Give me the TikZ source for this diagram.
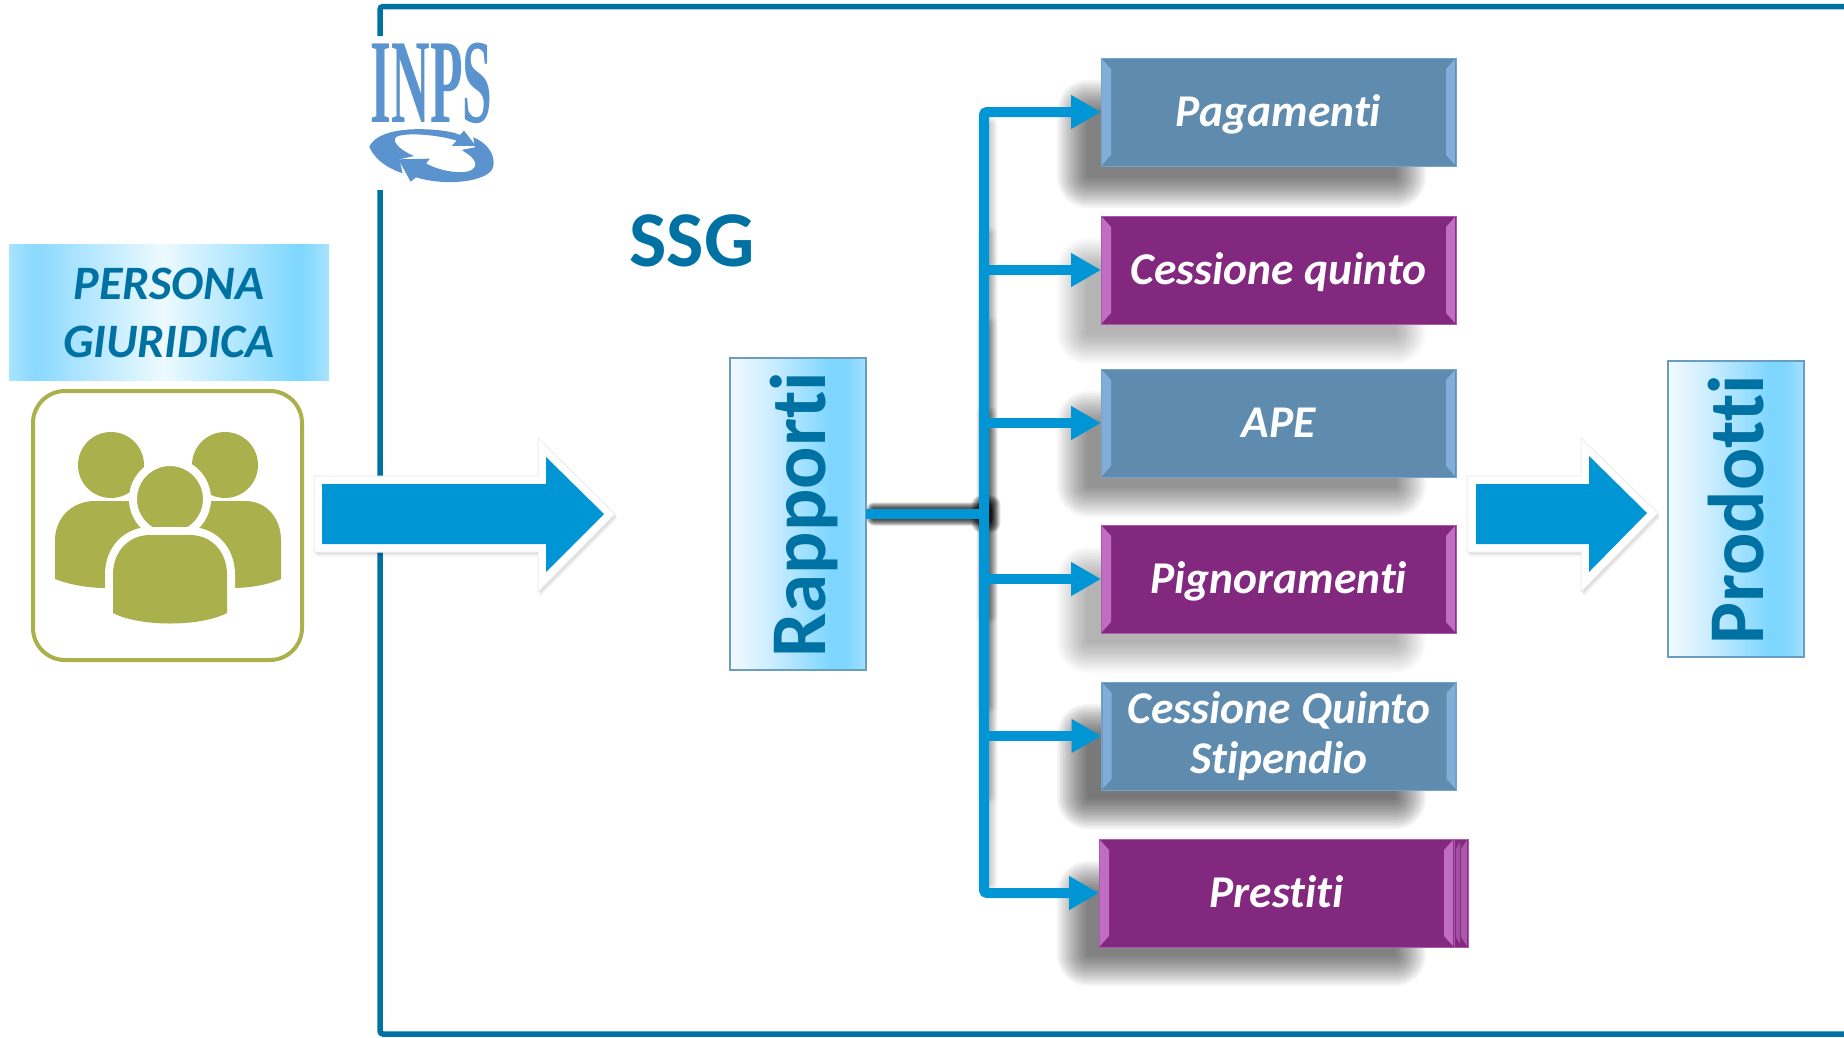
\documentclass[tikz,border=0pt]{standalone}
\usepackage{fontspec}
\setmainfont{Carlito}[Ligatures={NoCommon}]
\newfontfamily\logofont{Liberation Serif}
\usetikzlibrary{arrows.meta,calc}
\definecolor{ink}{HTML}{0071A3}
\definecolor{flow}{HTML}{0096D6}
\definecolor{oliv}{HTML}{A9B04C}
\definecolor{steel}{HTML}{5F8BAE}
\definecolor{steellt}{HTML}{80AED8}
\definecolor{plum}{HTML}{82297F}
\definecolor{plumlt}{HTML}{C06DC3}
\definecolor{logoblue}{HTML}{5B93CF}
\definecolor{edgeblue}{HTML}{6A9DC0}
\pgfdeclarehorizontalshading{persgrad}{100bp}{rgb(0bp)=(.66,.89,1);rgb(25bp)=(.66,.89,1);rgb(29bp)=(.54,.85,1);rgb(49bp)=(.93,.98,1);rgb(70.5bp)=(.49,.84,1);rgb(75bp)=(.66,.89,1);rgb(100bp)=(.66,.89,1)}
\pgfdeclarehorizontalshading{sidegrad}{100bp}{rgb(0bp)=(.95,.98,1);rgb(25bp)=(.95,.98,1);rgb(40bp)=(.80,.93,1);rgb(62bp)=(.49,.84,1);rgb(68bp)=(.50,.84,1);rgb(75bp)=(.64,.88,1);rgb(100bp)=(.64,.88,1)}
\newcommand\softbox[6]{% x1 y1 x2 y2 blur opacity
 \pgfmathsetmacro\layerop{1-(1-#6)^(1/16)}
 \foreach \i in {0,...,15}{
  \pgfmathsetmacro\ins{(#5)*(\i-7.5)/8}
  \pgfmathsetmacro\rad{max(1,(#5)-\ins)}
  \fill[black,opacity=\layerop,rounded corners=\rad pt]
   ({#1+\ins},{#2+\ins}) rectangle ({#3-\ins},{#4-\ins});
 }}
\newcommand\softpoly[1]{%
 \foreach \w in {5,4,3,2,1}{
  \fill[black,opacity=.03,shift={(\w*.5,\w*.9)}] #1 -- cycle;
 }}
\newcommand\bevel[2]{%
 \fill[#2] ($(#1.north west)+(1,1)$) -- ($(#1.north west)+(10,11)$) -- ($(#1.south west)+(10,-11)$) -- ($(#1.south west)+(1,-1)$) -- cycle;
 \fill[#2] ($(#1.north east)+(-1,1)$) -- ($(#1.north east)+(-10,11)$) -- ($(#1.south east)+(-10,-11)$) -- ($(#1.south east)+(-1,-1)$) -- cycle;}
\tikzset{
 framed/.style={draw=ink,line width=5.5pt,line cap=butt,rounded corners=3pt},
 conn/.style={draw=flow,line width=10pt,rounded corners=3pt},
 tipped/.style={conn,-{Triangle[length=30pt,width=32pt]}},
 dual/.style={conn,{Triangle[length=30pt,width=32pt]}-{Triangle[length=30pt,width=32pt]}},
 halo/.style={fill=white,draw=black!7,line width=1pt,line join=miter},
 cardtext/.style={text=white,font=\fontsize{45.5}{50}\selectfont\bfseries\itshape,inner sep=0pt,outer sep=0pt,align=center},
 stepcard/.style={cardtext,minimum width=355pt,minimum height=108pt,text height=34pt,text depth=6pt},
 bluecard/.style={stepcard,fill=steel,draw=steellt!70!steel,line width=1pt},
 plumcard/.style={stepcard,fill=plum,draw=plumlt!70!plum,line width=1pt},
 sidebox/.style={shading=sidegrad,draw=edgeblue,line width=1.5pt,inner sep=0pt,outer sep=0pt},
 sidetext/.style={text=ink,font=\fontsize{79}{79}\selectfont\bfseries,anchor=base,rotate=90,inner sep=0pt},
}
\begin{document}
\begin{tikzpicture}[x=1pt,y=-1pt]
\useasboundingbox (0,0) rectangle (1844,1037);
\fill[white] (0,0) rectangle (1844,1037);
% frame
\draw[framed] (380,36) -- (380,6.5) -- (1844,6.5);
\draw[framed] (380,190) -- (380,1034) -- (1844,1034);
% logo
\node[font=\logofont\bfseries\fontsize{120}{120}\selectfont,text=logoblue,xscale=.445,anchor=base,inner sep=0pt] (inps) at (431.5,122) {INPS};
\begin{scope}[shift={(340,0)},x=.3333pt,y=-.3333pt]
 \fill[logoblue] (88,440) .. controls (110,395) and (190,385) .. (260,388) .. controls (300,390) and (340,395) .. (360,405) -- (372,392) -- (408,438) -- (335,438) -- (350,422) .. controls (300,405) and (190,395) .. (167,412) .. controls (155,430) and (190,455) .. (222,468) -- (178,478) -- (188,520) .. controls (130,500) and (100,470) .. (88,440) -- cycle;
 \fill[logoblue] (212,545) -- (175,478) -- (270,476) -- (258,490) .. controls (300,515) and (390,530) .. (405,500) .. controls (412,480) and (385,462) .. (365,450) -- (405,442) -- (400,412) .. controls (445,430) and (470,470) .. (458,505) .. controls (440,545) and (320,560) .. (228,532) -- cycle;
\end{scope}
% persona label
\node[shading=persgrad,minimum width=320pt,minimum height=136pt,inner sep=0pt,outer sep=0pt,text=ink,align=center,font=\fontsize{48}{58}\selectfont\bfseries\itshape] (persona) at (169,312.5) {PERSONA\\GIURIDICA};
% people icon
\node[draw=oliv,line width=4pt,rounded corners=32pt,minimum width=269pt,minimum height=269pt,inner sep=0pt,outer sep=0pt] (people) at (167.5,525.5) {};
\fill[oliv] (111,465) circle (33) (225,465) circle (33);
\fill[oliv] (55,579) -- (55,540) .. controls (55,520) and (70,501) .. (95,501) -- (245,501) .. controls (268,501) and (281,520) .. (281,540) -- (281,579) .. controls (265,586) and (245,588) .. (234,588) -- (105,588) .. controls (90,588) and (70,585) .. (55,579) -- cycle;
\filldraw[fill=oliv,draw=white,line width=8pt] (170,499) circle (37);
\filldraw[fill=oliv,draw=white,line width=16pt] (113,613) -- (113,575) .. controls (113,550) and (130,535) .. (150,535) -- (190,535) .. controls (210,535) and (227,550) .. (227,575) -- (227,613) .. controls (200,627) and (140,627) .. (113,613) -- cycle;
\fill[oliv] (113,613) -- (113,575) .. controls (113,550) and (130,535) .. (150,535) -- (190,535) .. controls (210,535) and (227,550) .. (227,575) -- (227,613) .. controls (200,627) and (140,627) .. (113,613) -- cycle;
% big arrow 1
\softpoly{(314,476) -- (538,476) -- (538,438) -- (615,514) -- (538,592) -- (538,552) -- (314,552)}
\filldraw[halo] (314,476) -- (538,476) -- (538,438) -- (615,514) -- (538,592) -- (538,552) -- (314,552) -- cycle;
\fill[flow] (322,484) -- (546,484) -- (546,457) -- (604,514) -- (546,572) -- (546,544) -- (322,544) -- cycle;
% SSG
\node[text=ink,font=\fontsize{79}{79}\selectfont\bfseries,anchor=base,inner sep=0pt] (ssg) at (692,266) {SSG};
% shadows of cards
\softbox{1072}{95}{1411}{193}{16}{.46}
\softbox{1072}{253}{1411}{349}{16}{.26}
\softbox{1072}{406}{1411}{502}{16}{.42}
\softbox{1072}{562}{1411}{658}{16}{.26}
\softbox{1072}{719}{1411}{814}{16}{.50}
\softbox{1072}{876}{1411}{971}{16}{.46}
% shadows of connectors
\softbox{980}{120}{994}{888}{4}{.15}
\softbox{980}{230}{994}{800}{4}{.10}
\softbox{980}{320}{994}{710}{4}{.12}
\softbox{980}{410}{994}{620}{4}{.20}
\softbox{870}{506}{990}{522}{4}{.75}
\softbox{976}{500}{996}{528}{5}{.70}
% cards
\node[bluecard] (pag) at (1278.5,112) {Pagamenti};
\node[plumcard] (quinto) at (1278.5,270) {Cessione quinto};
\node[bluecard] (ape) at (1278.5,423) {APE};
\node[plumcard] (pign) at (1278.5,579) {Pignoramenti};
\node[bluecard,text height=,text depth=] (stip) at (1279,736) {\raisebox{-9.6pt}{\parbox{340pt}{\centering\baselineskip=50pt Cessione Quinto\\Stipendio}}};
\fill[plum,draw=plumlt!70!plum,line width=1pt] (1454,839) rectangle (1468,947);
\fill[plumlt!55!plum] (1456,849) -- (1460,842) -- (1460,944) -- (1456,937) -- cycle;
\fill[plumlt!70!plum] (1467,840) -- (1461,849) -- (1461,937) -- (1467,946) -- cycle;
\node[plumcard] (prest) at (1276.5,893) {Prestiti};
\bevel{pag}{steellt}
\bevel{quinto}{plumlt}
\bevel{ape}{steellt}
\bevel{pign}{plumlt}
\bevel{stip}{steellt}
\bevel{prest}{plumlt}
% side boxes
\node[sidebox,minimum width=136pt,minimum height=312pt] (rapporti) at (798,514) {};
\node[sidetext] (rapptext) at (825,515) {Rapporti};
\node[sidebox,minimum width=136pt,minimum height=296pt] (prodotti) at (1736,509) {};
\node[sidetext] (prodtext) at (1763,510) {Prodotti};
% connectors
\coordinate (trunk) at (984,514);
\draw[dual] (pag.west) -| (trunk) |- (prest.west);
\draw[conn] (rapporti.east) -- (trunk);
\draw[tipped] (trunk |- quinto.west) -- (quinto.west);
\draw[tipped] (trunk |- ape.west) -- (ape.west);
\draw[tipped] (trunk |- pign.west) -- (pign.west);
\draw[tipped] (trunk |- stip.west) -- (stip.west);
% big arrow 2
\softpoly{(1467,476) -- (1581,476) -- (1581,438) -- (1658,513) -- (1581,592) -- (1581,552) -- (1467,552)}
\filldraw[halo] (1467,476) -- (1581,476) -- (1581,438) -- (1658,513) -- (1581,592) -- (1581,552) -- (1467,552) -- cycle;
\fill[flow] (1476,484) -- (1589,484) -- (1589,456) -- (1647,513) -- (1589,572) -- (1589,544) -- (1476,544) -- cycle;
\end{tikzpicture}
\end{document}
